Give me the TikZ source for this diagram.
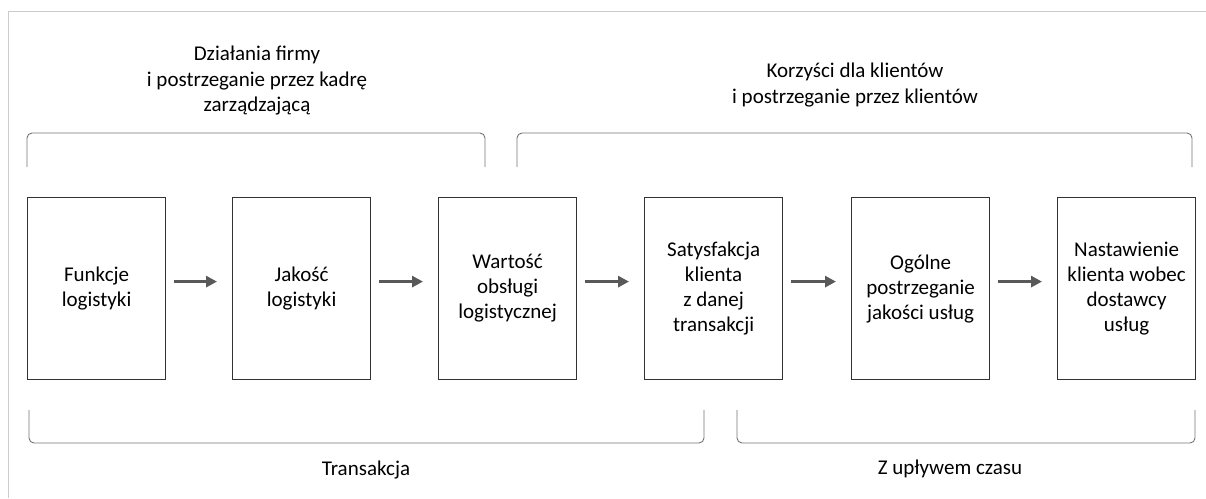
\documentclass[tikz,border=0pt]{standalone}
\usepackage{fontspec}
\setmainfont{Carlito}
\usetikzlibrary{arrows.meta}
\begin{document}
\begin{tikzpicture}[x=1pt,y=-1pt,
  stage/.style={draw=black!80,line width=1.2pt,minimum width=138pt,minimum height=182pt,
    inner sep=0pt,align=center,font=\fontsize{21}{25}\selectfont,anchor=north west},
  caption/.style={align=center,font=\fontsize{21}{25.5}\selectfont,text=black},
  flow/.style={draw=black!65,line width=3.4pt,-{Triangle[length=11pt,width=11pt]},
    shorten <=8pt,shorten >=15pt},
  brace/.style={draw=black!55,line width=0.9pt,rounded corners=5pt},
  frame/.style={draw=black!20,line width=1pt}]
\useasboundingbox (0,0) rectangle (1206,498);
% page frame (top and left edges)
\draw[frame] (1206,11) -- (8,11) -- (8,498);
% stages
\node[stage] (b1) at (27,197)  {Funkcje\\logistyki};
\node[stage] (b2) at (232,197) {Jakość\\logistyki};
\node[stage] (b3) at (438,197) {Wartość\\obsługi\\logistycznej};
\node[stage] (b4) at (644,197) {Satysfakcja\\klienta\\z danej\\transakcji};
\node[stage] (b5) at (851,197) {Ogólne\\postrzeganie\\jakości usług};
\node[stage] (b6) at (1057,197) {Nastawienie\\klienta wobec\\dostawcy\\usług};
% flow arrows
\foreach \a/\b in {b1/b2,b2/b3,b3/b4,b4/b5,b5/b6}
  \draw[flow] ([yshift=7pt]\a.east) -- ([yshift=7pt]\b.west);
% brackets above
\draw[brace] (27,167) -- (27,133) -- (485,133) -- (485,167);
\draw[brace] (517,167) -- (517,133) -- (1192,133) -- (1192,167);
% brackets below
\draw[brace] (29,410) -- (29,443) -- (704,443) -- (704,410);
\draw[brace] (737,410) -- (737,443) -- (1195,443) -- (1195,410);
% captions
\node[caption] (t1) at (257,81) {Działania firmy\\i postrzeganie przez kadrę\\zarządzającą};
\node[caption] (t2) at (855,85) {Korzyści dla klientów\\i postrzeganie przez klientów};
\node[caption] (t3) at (366,470) {Transakcja};
\node[caption] (t4) at (950,469) {Z upływem czasu};
\end{tikzpicture}
\end{document}
